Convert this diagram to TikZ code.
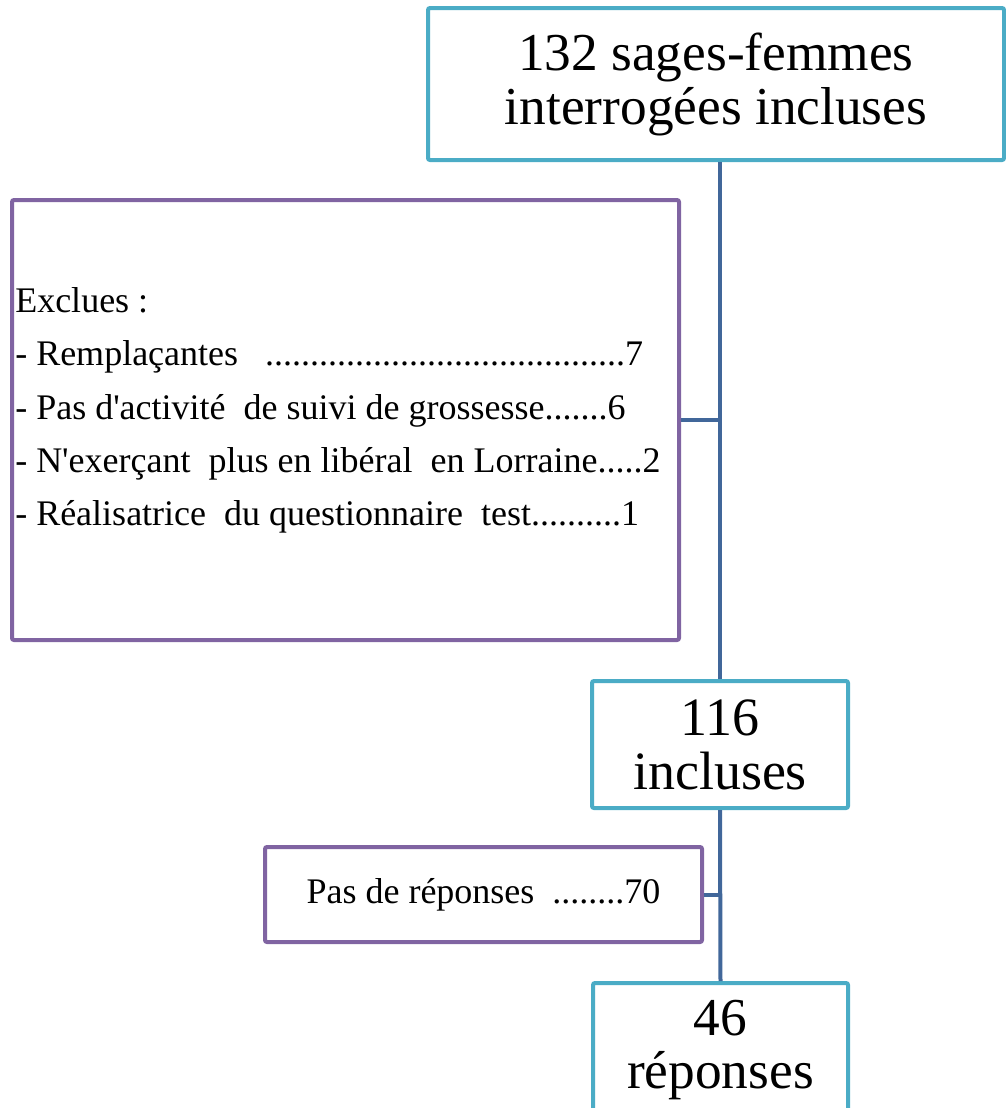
\documentclass[tikz,border=0pt]{standalone}
\usepackage{fontspec}
\setmainfont{Liberation Serif}[Ligatures=TeXOff]
\definecolor{aquab}{HTML}{4BACC6}
\definecolor{purpb}{HTML}{8064A2}
\definecolor{conn}{HTML}{41679A}
\begin{document}
\begin{tikzpicture}[x=0.75pt,y=-0.75pt,
  bigbox/.style={draw=aquab,line width=3pt,rounded corners=1.5pt,fill=white,align=center,inner sep=0pt},
  exbox/.style={draw=purpb,line width=3pt,rounded corners=1.5pt,fill=white,inner sep=0pt},
  extext/.style={inner sep=0pt,font=\fontsize{27}{40}\selectfont},
  link/.style={draw=conn,line width=3pt}]
\useasboundingbox (0,0) rectangle (1006,1108);
\clip (0,0) rectangle (1006,1108);
\node[bigbox,minimum width=432pt,minimum height=114pt,font=\fontsize{40}{40.5}\selectfont] (top) at (716,84) {132 sages-femmes\\interrogées incluses};
\node[exbox,minimum width=500.25pt,minimum height=330pt] (excl) at (345.5,420) {};
\node[extext,anchor=north west,align=left] (excltxt) at (15,287.4)
 {Exclues :\\
 - Remplaçantes \ \ ........................................7\\
 - Pas d'activité \ de suivi de grossesse.......6\\
 - N'exerçant \ plus en libéral \ en Lorraine.....2\\
 - Réalisatrice \ du questionnaire \ test..........1};
\node[bigbox,minimum width=192pt,minimum height=95.25pt,font=\fontsize{40.5}{40.5}\selectfont] (mid) at (720,744.5) {116\\incluses};
\node[exbox,minimum width=327.75pt,minimum height=71.25pt,align=center,font=\fontsize{27}{40}\selectfont] (nores) at (483.5,894.5) {Pas de réponses \ ........70};
\node[bigbox,minimum width=191.25pt,minimum height=100.5pt,font=\fontsize{40}{40}\selectfont] (bot) at (720.5,1050) {46\\réponses};
\draw[link] (mid.north |- top.south) -- (mid.north);
\draw[link] (excl.east) -- (excl.east -| mid.north);
\draw[link] (nores.east) -- (nores.east -| mid.north);
\draw[link] (mid.south) -- (bot.north);
\end{tikzpicture}
\end{document}
